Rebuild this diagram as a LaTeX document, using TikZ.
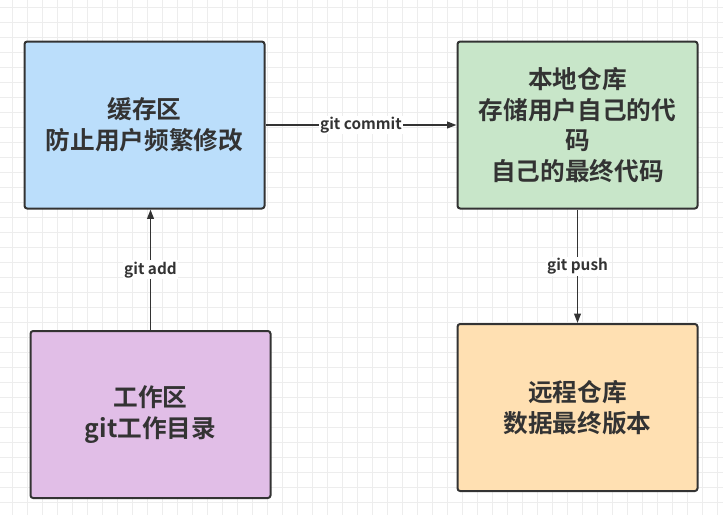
\documentclass[tikz,border=0pt]{standalone}
\usepackage{fontspec}
\setmainfont{Noto Sans CJK SC}[BoldFont={* Bold}]
\usetikzlibrary{arrows.meta}
\definecolor{cblue}{HTML}{BBDEFB}
\definecolor{cgreen}{HTML}{C8E6C9}
\definecolor{cpurple}{HTML}{E1BEE7}
\definecolor{corange}{HTML}{FFE0B2}
\definecolor{edge}{HTML}{333333}
\definecolor{gridc}{HTML}{EDEDED}
\begin{document}
\begin{tikzpicture}[x=0.75pt,y=-0.75pt,
  box/.style={draw=edge,line width=1.5pt,rounded corners=2pt,minimum width=240*0.75pt,minimum height=167*0.75pt,align=center,font=\fontsize{18.5}{23}\selectfont\bfseries,text=edge},
  arr/.style={draw=edge,line width=1.2pt,-{Triangle[length=7pt,width=5pt]}},
  lab/.style={fill=white,font=\fontsize{11.5}{13}\selectfont\bfseries,text=edge,inner sep=1pt}]
\useasboundingbox (0,0) rectangle (723,515);
\fill[white] (0,0) rectangle (723,515);
\foreach \i in {0,...,48} \draw[gridc,line width=0.5pt] (12+15*\i,0) -- (12+15*\i,515);
\foreach \j in {0,...,34} \draw[gridc,line width=0.5pt] (0,7+15*\j) -- (723,7+15*\j);
\node[box,fill=cblue] (cache) at (144.5,125) {缓存区\\防止用户频繁修改};
\node[box,fill=cgreen] (local) at (577.5,125) {本地仓库\\存储用户自己的代\\码\\自己的最终代码};
\node[box,fill=cpurple] (work) at (150.5,414.5) {工作区\\git工作目录};
\node[box,fill=corange] (remote) at (577.5,407.5) {远程仓库\\数据最终版本};
\draw[arr] (cache.east) -- node[lab]{git commit} (local.west);
\draw[arr] (work.north) -- node[lab]{git add} (work.north |- cache.south);
\draw[arr] (local.south) -- node[lab]{git push} (remote.north);
\end{tikzpicture}
\end{document}
